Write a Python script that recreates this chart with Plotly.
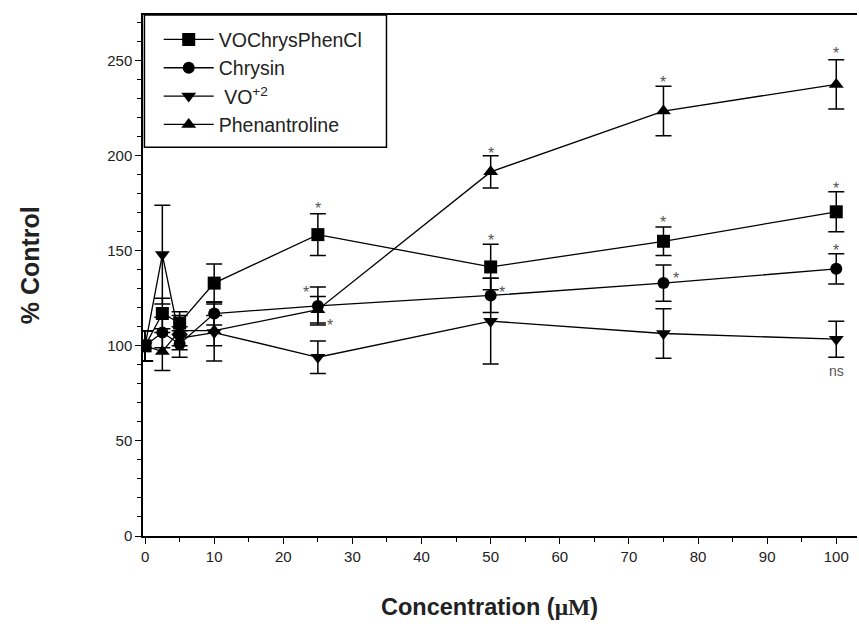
import plotly.graph_objects as go

conc = [0, 2.5, 5, 10, 25, 50, 75, 100]

vocp = [100, 117, 112, 133, 158.5, 141.5, 155, 170.5]
vocp_err = [8, 8, 6, 10, 11, 12, 7.5, 10.5]

chrysin = [100, 107, 101, 117, 121, 126.5, 133, 140.5]
chrysin_err = [8, 8, 7, 6, 10, 9, 9.5, 8]

vo = [100, 148, 104, 107, 94, 113, 106.5, 103.5]
vo_err = [8, 26, 6, 15, 8.5, 22.5, 13, 9.5]

phen = [100, 97, 108, 108, 119, 191.5, 223.5, 237.5]
phen_err = [8, 10, 8, 8, 7, 8.5, 13, 13]

series_names = ["VOChrysPhenCl", "Chrysin", " VO<sup>+2</sup>", "Phenantroline"]
series_vals = [vocp, chrysin, vo, phen]
series_errs = [vocp_err, chrysin_err, vo_err, phen_err]
series_symbols = ["square", "circle", "triangle-down", "triangle-up"]
series_sizes = [13, 12, 13, 13]

# significance marks (x, y, text)
sig_x = [25, 23.3, 26.8, 50, 51.7, 50, 75, 76.8, 75, 100, 100, 100, 100]
sig_y = [174.5, 130, 113, 157.5, 130, 203.5, 167, 137.5, 240.5, 256, 185, 152.5, 87]
sig_text = ["*", "*", "*", "*", "*", "*", "*", "*", "*", "*", "*", "*", "ns"]

x_ticks = [0, 10, 20, 30, 40, 50, 60, 70, 80, 90, 100]
y_ticks = [0, 50, 100, 150, 200, 250]

fig = go.Figure()
for name, vals, errs, sym, sz in zip(series_names, series_vals, series_errs,
                                     series_symbols, series_sizes):
    fig.add_trace(go.Scatter(
        x=conc, y=vals, name=name, mode="lines+markers",
        line=dict(color="black", width=1.3),
        marker=dict(symbol=sym, size=sz, color="black"),
        error_y=dict(type="data", array=errs, visible=True,
                     color="black", thickness=1.5, width=8),
    ))

for sx, sy, st in zip(sig_x, sig_y, sig_text):
    fig.add_annotation(
        x=sx, y=sy, text=st, showarrow=False, xref="x", yref="y",
        font=dict(family="Arial", size=16 if st == "*" else 14, color="#555"),
        yshift=-4 if st == "*" else 0,
    )

# axis titles
fig.add_annotation(xref="paper", yref="paper", x=0.485, y=-0.137,
                   xanchor="center", yanchor="middle", showarrow=False,
                   text="<b>Concentration (<span style='font-family:Liberation Serif'>μM</span>)</b>",
                   font=dict(family="Arial", size=23.5, color="#222"))
fig.add_annotation(xref="paper", yref="paper", x=-0.158, y=0.52,
                   xanchor="center", yanchor="middle", showarrow=False,
                   textangle=-90, text="<b>% Control</b>",
                   font=dict(family="Arial", size=25, color="#222"))

# legend frame
fig.add_shape(type="rect", xref="paper", yref="paper",
              x0=0.002, x1=0.341, y0=0.746, y1=1.0,
              line=dict(color="black", width=1.5), fillcolor="white",
              layer="below")

fig.update_layout(
    width=859, height=628,
    margin=dict(l=143, r=2, t=15, b=92),
    paper_bgcolor="white", plot_bgcolor="white",
    font=dict(family="Arial", color="#222"),
    showlegend=True,
    legend=dict(x=0.022, y=0.99, xanchor="left", yanchor="top",
                bgcolor="rgba(0,0,0,0)", borderwidth=0,
                font=dict(family="Arial", size=19.5, color="#222"),
                tracegroupgap=0, itemwidth=50),
    xaxis=dict(range=[-0.3, 103], tickvals=x_ticks, automargin=False,
               ticks="outside", ticklen=6, tickwidth=1.2, tickcolor="black",
               minor=dict(dtick=5, ticks="outside", ticklen=4, tickcolor="black"),
               showline=True, linecolor="black", linewidth=1.5,
               mirror=True, showgrid=False, zeroline=False,
               tickfont=dict(family="Arial", size=15, color="#222")),
    yaxis=dict(range=[0, 274], tickvals=y_ticks, automargin=False,
               ticks="outside", ticklen=6, tickwidth=1.2, tickcolor="black",
               minor=dict(dtick=10, ticks="outside", ticklen=4, tickcolor="black"),
               showline=True, linecolor="black", linewidth=1.5,
               showgrid=False, zeroline=False,
               tickfont=dict(family="Arial", size=15, color="#222")),
)

fig.write_html("out.html", config={"displayModeBar": False},
               post_script="document.body.style.margin='0px';document.body.style.overflow='hidden';")
